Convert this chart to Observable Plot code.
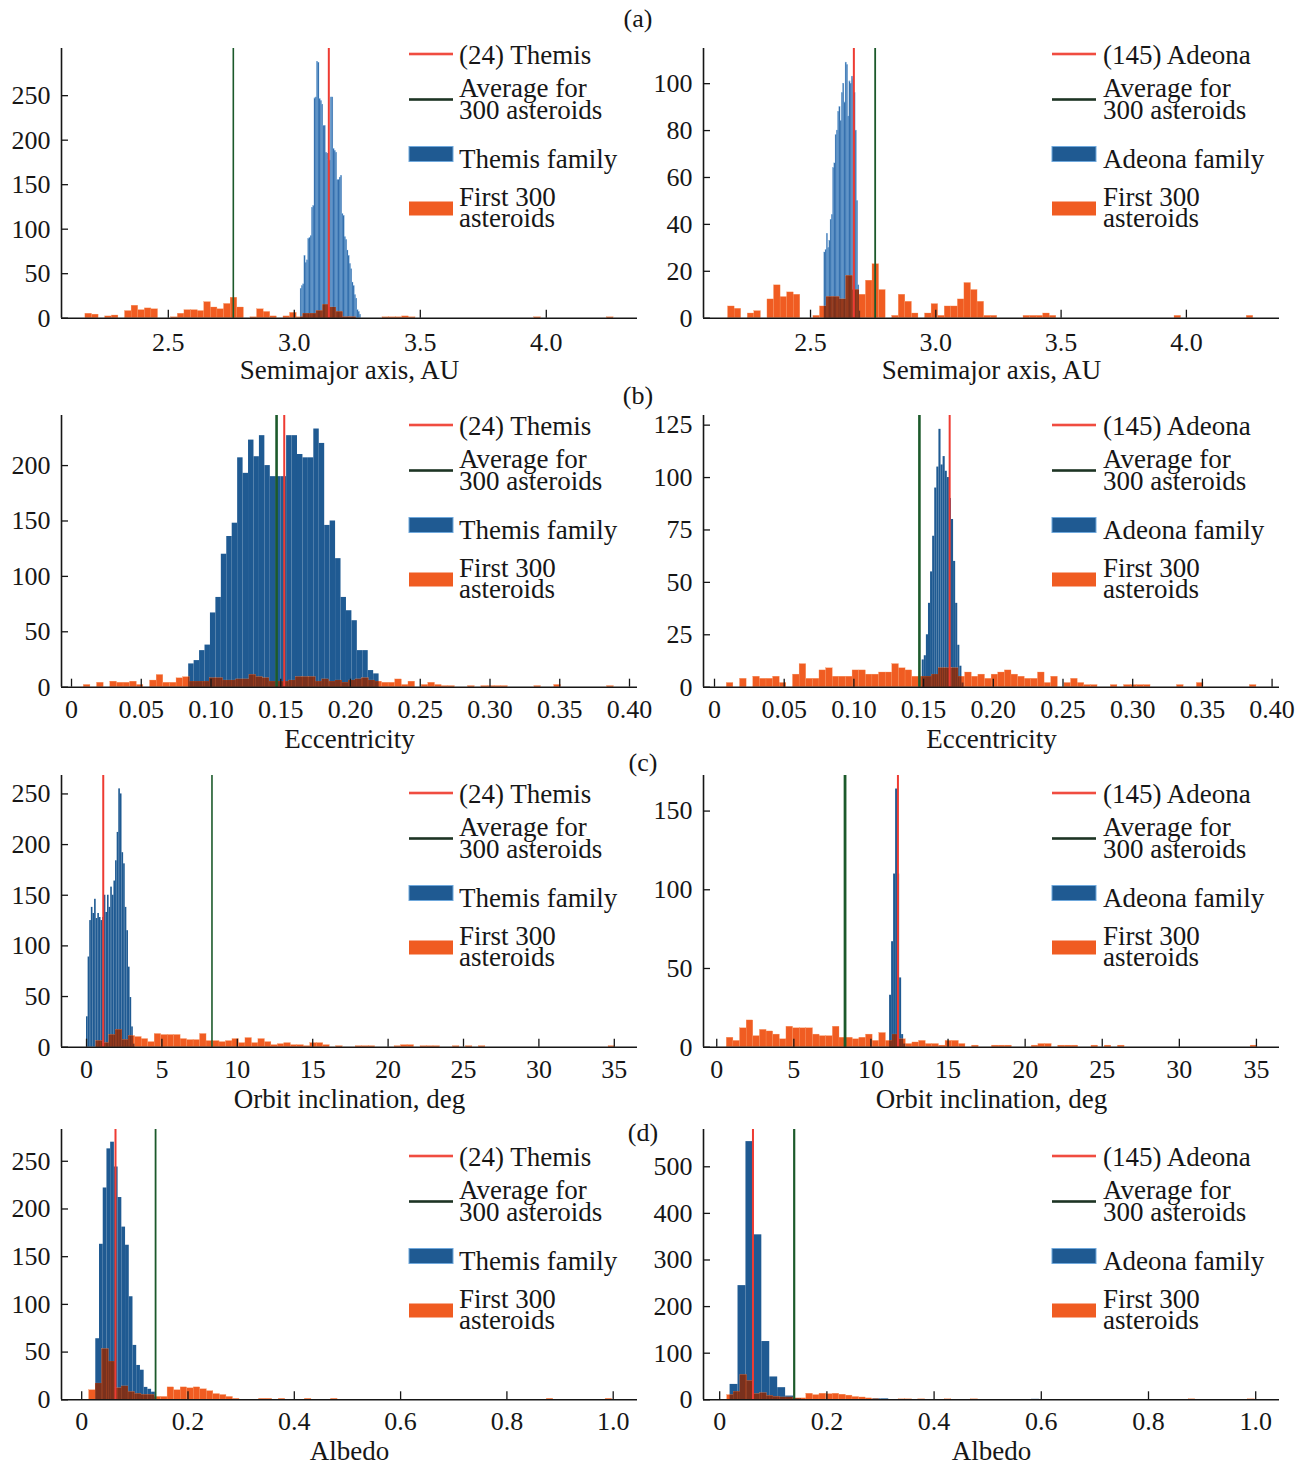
<!DOCTYPE html>
<html>
<head>
<meta charset="utf-8">
<script src="https://cdn.jsdelivr.net/npm/d3@7"></script>
<script src="https://cdn.jsdelivr.net/npm/@observablehq/plot@0.6"></script>
<style>
  html, body { margin:0; padding:0; background:#fff; }
  body { position:relative; width:1299px; height:1465px; overflow:hidden; font-family:"Liberation Serif","Times New Roman",serif; }
  svg { overflow: visible; }
</style>
</head>
<body>
<script>
// ---------------- tick labels ----------------
const semimajorTicks = [2.5, 3.0, 3.5, 4.0];
const eccentricityTicks = [0, 0.05, 0.10, 0.15, 0.20, 0.25, 0.30, 0.35, 0.40];
const inclinationTicks = [0, 5, 10, 15, 20, 25, 30, 35];
const albedoTicks = [0, 0.2, 0.4, 0.6, 0.8, 1.0];

const countTicksThemisA = [0, 50, 100, 150, 200, 250];
const countTicksAdeonaA = [0, 20, 40, 60, 80, 100];
const countTicksThemisB = [0, 50, 100, 150, 200];
const countTicksAdeonaB = [0, 25, 50, 75, 100, 125];
const countTicksThemisC = [0, 50, 100, 150, 200, 250];
const countTicksAdeonaC = [0, 50, 100, 150];
const countTicksThemisD = [0, 50, 100, 150, 200, 250];
const countTicksAdeonaD = [0, 100, 200, 300, 400, 500];

// ---------------- reference values (a, e, i, albedo) ----------------
const themisValues = [3.137, 0.1525, 1.11, 0.0636];
const adeonaValues = [2.673, 0.1687, 11.75, 0.0621];
const average300Values = [2.758, 0.147, 8.32, 0.139];

// ---------------- histograms: bins = [first bin start, bin width] ----------------
// First 300 asteroids
const first300SemimajorBins = [2.171, 0.0262];
const first300Semimajor = [5,4,0,2,3,0,8,14,9,11, 10,0,0,1,5,9,9,8,18,12, 10,16,23,12,0,1,10,7,2,0,
  2,6,1,5,5,8,15,12,7,1, 1,0,0,0,0,1,1,1,2,1, 0,0,0,0,0,0,0,0,0,0, 0,0,0,0,0,0,0,0,1,0, 0,0,0,0,0,0,0,0,0,1];
const first300EccentricityBins = [0.0088, 0.00475];
const first300Eccentricity = [2,0,4,0,5,4,4,5,2,0, 6,11,4,4,8,9,5,5,5,8, 8,6,6,7,7,11,9,8,5,5,
  5,6,9,9,9,5,7,5,6,4, 6,7,8,6,5,4,4,7,2,5, 0,2,4,2,1,1,0,0,1,0, 1,1,1,1,0,0,0,0,1,0, 0,2,0,0,0,0,0,0,0,1];
const first300InclinationBins = [0.65, 0.43];
const first300Inclination = [6,4,12,17,7,11,10,8,5,13, 12,12,12,8,7,7,13,6,6,5, 6,8,4,9,4,8,5,2,3,4,
  2,2,1,4,4,2,0,1,0,0, 1,1,1,0,0,0,1,2,2,0, 1,1,1,0,0,1,0,1,0,1, 0,0,0,0,0,0,0,0,0,0, 0,0,0,0,0,0,0,0,0,1];
const first300AlbedoBins = [0.014, 0.0123];
const first300Albedo = [10,17,53,40,12,14,8,6,5,5, 3,3,13,10,13,12,13,11,9,6, 5,3,1,0,0,0,1,1,0,1,
  0,0,0,1,0,0,0,1,0,0, 0,0,0,0,0,0,0,0,0,0, 0,0,0,0,0,0,0,0,0,0, 0,0,0,0,0,0,0,0,0,0, 1,0,0,0,0,0,0,0,0,1];

// Themis family
const themisSemimajorBins = [3.025, 0.005];
const themisSemimajor = [33,36,38,70,62,65,89,90,92,124,126,247,248,288,287,246,244,240,216,216,
  186,185,178,177,248,248,190,188,186,155,155,158,160,117,115,91,88,76,70,61,55,40,36,26,22,9,7,4];
const themisEccentricityBins = [0.084, 0.0039];
const themisEccentricity = [21,24,33,38,67,81,120,136,148,207,193,223,208,227,200,190,190,190,
  227,227,210,207,207,233,220,146,150,116,81,69,60,33,33,15,12];
const themisInclinationBins = [0.0, 0.107];
const themisInclination = [30,89,125,138,132,146,127,132,128,125,128,150,133,150,138,158,150,164,
  184,212,255,250,192,181,138,115,79,49,20,3];
const themisAlbedoBins = [0.0265, 0.007];
const themisAlbedo = [64,163,222,263,270,244,212,181,162,108,57,36,31,13,11,8];

// Adeona family
const adeonaSemimajorBins = [2.555, 0.005];
const adeonaSemimajor = [28,29,36,30,33,42,44,64,66,78,80,88,90,84,96,100,92,109,108,86,
  101,100,103,102,96,80,50,14,3];
const adeonaEccentricityBins = [0.149, 0.0015];
const adeonaEccentricity = [13,15,25,40,55,72,95,105,123,106,110,103,100,90,80,60,40,20,10,2];
const adeonaInclinationBins = [11.21, 0.13];
const adeonaInclination = [33,67,110,164,110,44,8,2];
const adeonaAlbedoBins = [0.0194, 0.0148];
const adeonaAlbedo = [33,245,554,354,125,49,26,8,2,0, 0,0,0,0,0,0,0,0,2,2,
  0,0,0,0,0,0,0,0,0,0, 0,0,0,0,0,0,0,0,1];

// ---------------- helpers ----------------
const FONT = "Liberation Serif, Times New Roman, serif";
const BLUE = "#1f5a92", BLUE_LIGHT = "#2f6aa8", BLUE_EDGE = "#6fa8dc";
const ORANGE = "#f05c22", ORANGE_EDGE = "#f7925a";
const BROWN = "#7a311d";
const RED = "#ee3b32", GREEN = "#1c5a2b";
const INK = "#161616";

function toBins([start, step], counts) {
  return counts.map((c, i) => ({x1: start + i * step, x2: start + (i + 1) * step, count: c}))
               .filter(d => d.count > 0);
}
function overlap(blue, orange) {
  const out = [];
  for (const b of blue) for (const o of orange) {
    const x1 = Math.max(b.x1, o.x1), x2 = Math.min(b.x2, o.x2);
    if (x2 > x1) out.push({x1, x2, count: Math.min(b.count, o.count)});
  }
  return out;
}

const fmtSemimajor = d => d.toFixed(1);
const fmtEcc = d => d === 0 ? "0" : d.toFixed(2);
const fmtIncl = d => String(d);
const fmtAlbedo = d => d === 0 ? "0" : d.toFixed(1);

// rows: frame top / bottom in page pixels
const rows = [
  {label: "Semimajor axis, AU", frameTop: 48, frameBottom: 317.7, pad: 14, xTicks: semimajorTicks, fmt: fmtSemimajor,
   blueFill: BLUE_LIGHT, edge: 0.35,
   orange: toBins(first300SemimajorBins, first300Semimajor),
   left: {xDomain: [2.0762, 4.3619], yMax: 303, yTicks: countTicksThemisA, blue: toBins(themisSemimajorBins, themisSemimajor), ref: themisValues[0], avg: average300Values[0], gw: 1.6},
   right: {xDomain: [2.0730, 4.3715], yMax: 115, yTicks: countTicksAdeonaA, blue: toBins(adeonaSemimajorBins, adeonaSemimajor), ref: adeonaValues[0], avg: average300Values[0], gw: 1.8}},
  {label: "Eccentricity", frameTop: 415, frameBottom: 686.7, pad: 12, xTicks: eccentricityTicks, fmt: fmtEcc,
   blueFill: BLUE, edge: 0,
   orange: toBins(first300EccentricityBins, first300Eccentricity),
   left: {xDomain: [-0.00717, 0.40573], yMax: 245.2, yTicks: countTicksThemisB, blue: toBins(themisEccentricityBins, themisEccentricity), ref: themisValues[1], avg: average300Values[1], gw: 2.6},
   right: {xDomain: [-0.00789, 0.40531], yMax: 129.6, yTicks: countTicksAdeonaB, blue: toBins(adeonaEccentricityBins, adeonaEccentricity), ref: adeonaValues[1], avg: average300Values[1], gw: 2.6}},
  {label: "Orbit inclination, deg", frameTop: 775, frameBottom: 1046.7, pad: 12, xTicks: inclinationTicks, fmt: fmtIncl,
   blueFill: BLUE, edge: 0,
   orange: toBins(first300InclinationBins, first300Inclination),
   left: {xDomain: [-1.658, 36.538], yMax: 268.2, yTicks: countTicksThemisC, blue: toBins(themisInclinationBins, themisInclination), ref: themisValues[2], avg: average300Values[2], gw: 1.6},
   right: {xDomain: [-0.859, 36.495], yMax: 172.6, yTicks: countTicksAdeonaC, blue: toBins(adeonaInclinationBins, adeonaInclination), ref: adeonaValues[2], avg: average300Values[2], gw: 2.8}},
  {label: "Albedo", frameTop: 1129, frameBottom: 1399.3, pad: 12, xTicks: albedoTicks, fmt: fmtAlbedo,
   blueFill: BLUE, edge: 0,
   orange: toBins(first300AlbedoBins, first300Albedo),
   left: {xDomain: [-0.038, 1.0457], yMax: 283.3, yTicks: countTicksThemisD, blue: toBins(themisAlbedoBins, themisAlbedo), ref: themisValues[3], avg: average300Values[3], gw: 1.8},
   right: {xDomain: [-0.0302, 1.0444], yMax: 580, yTicks: countTicksAdeonaD, blue: toBins(adeonaAlbedoBins, adeonaAlbedo), ref: adeonaValues[3], avg: average300Values[3], gw: 2.2}}
];

function drawPanel(row, side, pageLeft, width, marginLeft, marginRight) {
  const p = row[side];
  const marginTop = 20, marginBottom = 72;
  const height = (row.frameBottom - row.frameTop) + marginTop + marginBottom;
  const svg = Plot.plot({
    width, height, marginLeft, marginRight, marginTop, marginBottom,
    style: {fontFamily: FONT, fontSize: "26px", color: INK, background: "transparent", overflow: "visible"},
    x: {domain: p.xDomain},
    y: {domain: [0, p.yMax]},
    marks: [
      Plot.rect(p.blue, {x1: "x1", x2: "x2", y1: d => 0, y2: "count", fill: row.blueFill,
        stroke: BLUE_EDGE, strokeWidth: row.edge, strokeOpacity: row.edge ? 0.8 : 0, inset: 0}),
      Plot.rect(row.orange, {x1: "x1", x2: "x2", y1: d => 0, y2: "count", fill: ORANGE, stroke: ORANGE_EDGE, strokeWidth: 0.3, inset: 0}),
      Plot.rect(overlap(p.blue, row.orange), {x1: "x1", x2: "x2", y1: d => 0, y2: "count", fill: BROWN, inset: 0}),
      Plot.ruleX([p.avg], {stroke: GREEN, strokeWidth: p.gw}),
      Plot.ruleX([p.ref], {stroke: RED, strokeWidth: 2}),
      Plot.ruleX([p.xDomain[0]], {stroke: INK, strokeWidth: 1.6}),
      Plot.ruleY([0], {stroke: INK, strokeWidth: 1.6}),
      Plot.axisX(row.xTicks, {tickSize: 0, tickPadding: row.pad, tickFormat: row.fmt, fontSize: 26, label: null}),
      Plot.axisX(row.xTicks, {tickSize: 8, dy: -8, tickFormat: () => "", label: null, strokeWidth: 1.3}),
      Plot.axisY(p.yTicks, {tickSize: 0, tickPadding: 11, fontSize: 26, label: null}),
      Plot.axisY(p.yTicks, {tickSize: 7, dx: 7, tickFormat: () => "", label: null, strokeWidth: 1.3}),
      Plot.text([row.label], {text: d => d, frameAnchor: "bottom", lineAnchor: "middle", dy: 52, fontSize: 27, fill: INK})
    ]
  });
  svg.style.position = "absolute";
  svg.style.left = pageLeft + "px";
  svg.style.top = (row.frameTop - marginTop) + "px";
  svg.style.maxWidth = "none";
  document.body.appendChild(svg);
}

for (const row of rows) {
  drawPanel(row, "left", 0, 649, 61, 12);
  drawPanel(row, "right", 649, 650, 54, 20);
}

// ---------------- legends and panel letters ----------------
const legendRowY = [54, 425, 793, 1156];
const panelLetters = [["(a)", 638, 18], ["(b)", 638, 395], ["(c)", 643, 762], ["(d)", 643, 1132]];
const legendSides = [
  {sx: 409, tx: 459, name: "(24) Themis", family: "Themis family"},
  {sx: 1052, tx: 1103, name: "(145) Adeona", family: "Adeona family"}
];

const ov = d3.select("body").append("svg")
  .attr("width", 1299).attr("height", 1465)
  .style("position", "absolute").style("left", "0px").style("top", "0px")
  .style("pointer-events", "none")
  .attr("font-family", FONT).attr("fill", INK);

for (const [t, x, y] of panelLetters) {
  ov.append("text").attr("x", x).attr("y", y).attr("dy", "0.33em")
    .attr("text-anchor", "middle").attr("font-size", 26).text(t);
}

for (const ry of legendRowY) {
  for (const s of legendSides) {
    const g = ov.append("g");
    g.append("rect").attr("x", s.sx).attr("y", ry - 1.3).attr("width", 44).attr("height", 2.6).attr("fill", "#f04c40");
    g.append("rect").attr("x", s.sx).attr("y", ry + 45.5 - 1.3).attr("width", 44).attr("height", 2.6).attr("fill", "#1d3424");
    g.append("rect").attr("x", s.sx).attr("y", ry + 92.5).attr("width", 44).attr("height", 15)
      .attr("fill", BLUE).attr("stroke", BLUE_EDGE).attr("stroke-width", 1);
    g.append("rect").attr("x", s.sx).attr("y", ry + 147.5).attr("width", 44).attr("height", 14).attr("fill", ORANGE);
    const lines = [[s.name, 9.5], ["Average for", 43], ["300 asteroids", 65], [s.family, 114], ["First 300", 151.5], ["asteroids", 173]];
    for (const [t, dy] of lines) {
      g.append("text").attr("x", s.tx).attr("y", ry + dy).attr("font-size", 27).text(t);
    }
  }
}
</script>
</body>
</html>
